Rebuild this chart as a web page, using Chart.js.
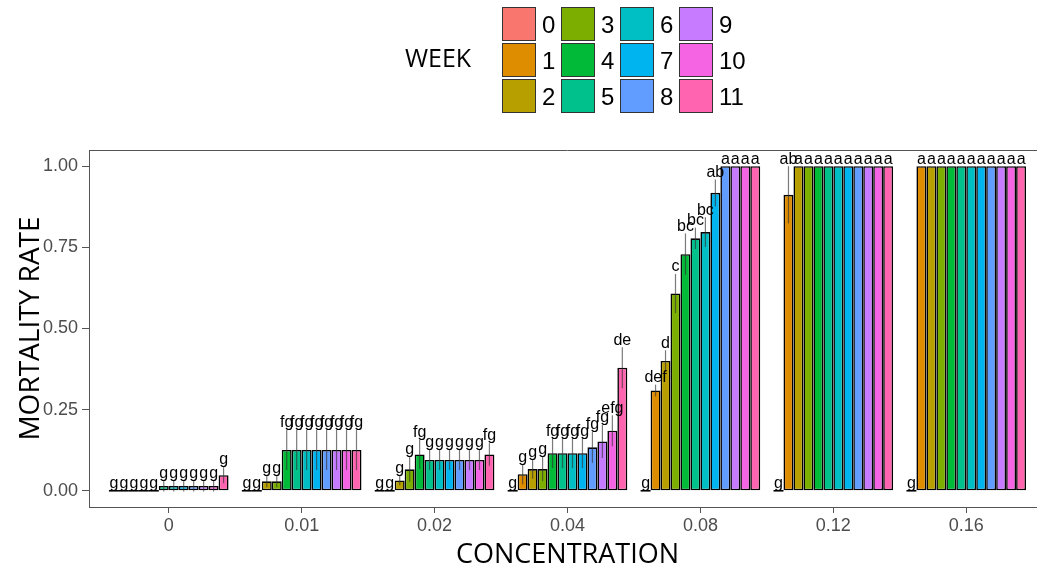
<!DOCTYPE html>
<html>
<head>
<meta charset="utf-8">
<script src="https://cdn.jsdelivr.net/npm/chart.js@4.4.1/dist/chart.umd.min.js"></script>
<style>
  html, body { margin: 0; padding: 0; background: #fff; overflow: hidden; width: 1037px; height: 572px; }
  #wrap { position: absolute; left: 0; top: 0; width: 1046px; height: 572px; }
  #legend { position: absolute; left: 0; top: 0; width: 1037px; height: 120px; font-family: 'Liberation Sans', Arial, sans-serif; }
  .key { position: absolute; width: 32px; height: 32px; border: 1.5px solid #333; }
  .lab { position: absolute; font-size: 24px; line-height: 34px; color: #000; }
  #wtitle { position: absolute; left: 405px; top: 40px; font-family: 'Open Sans', sans-serif; font-size: 25px; color: #000; }
</style>
</head>
<body>
<div id="wrap"><canvas id="myChart"></canvas></div>
<div id="legend"><div id="wtitle">WEEK</div></div>
<script>
// concentrations on the x axis, weeks as the bar series
const concentrations = ['0', '0.01', '0.02', '0.04', '0.08', '0.12', '0.16'];
const weeks = ['0', '1', '2', '3', '4', '5', '6', '7', '8', '9', '10', '11'];
const weekColors = ['#F8766D', '#DE8C00', '#B79F00', '#7CAE00', '#00BA38', '#00C08B',
                    '#00BFC4', '#00B4F0', '#619CFF', '#C77CFF', '#F564E3', '#FF64B0'];
const yTicks = [0, 0.25, 0.5, 0.75, 1];

// mean mortality rate, one row per concentration, one value per week
const means = [
  [0, 0, 0, 0, 0, 0.015, 0.015, 0.015, 0.015, 0.015, 0.015, 0.048],
  [0, 0, 0.029, 0.029, 0.126, 0.126, 0.126, 0.126, 0.126, 0.126, 0.126, 0.126],
  [0, 0, 0.032, 0.066, 0.112, 0.095, 0.095, 0.095, 0.095, 0.095, 0.095, 0.112],
  [0, 0.051, 0.067, 0.067, 0.116, 0.116, 0.116, 0.116, 0.134, 0.152, 0.185, 0.379],
  [0, 0.309, 0.40, 0.608, 0.729, 0.778, 0.797, 0.918, 1, 1, 1, 1],
  [0, 0.912, 1, 1, 1, 1, 1, 1, 1, 1, 1, 1],
  [0, 1, 1, 1, 1, 1, 1, 1, 1, 1, 1, 1]
];
// standard errors
const errors = [
  [0, 0, 0, 0, 0, 0.017, 0.017, 0.017, 0.017, 0.017, 0.017, 0.025],
  [0, 0, 0.018, 0.018, 0.062, 0.062, 0.062, 0.062, 0.062, 0.062, 0.062, 0.062],
  [0, 0, 0.015, 0.038, 0.045, 0.031, 0.031, 0.031, 0.031, 0.031, 0.031, 0.035],
  [0, 0.031, 0.03, 0.037, 0.046, 0.046, 0.046, 0.046, 0.048, 0.051, 0.048, 0.063],
  [0, 0.018, 0.033, 0.06, 0.064, 0.033, 0.046, 0.041, 0, 0, 0, 0],
  [0, 0.088, 0, 0, 0, 0, 0, 0, 0, 0, 0, 0],
  [0, 0, 0, 0, 0, 0, 0, 0, 0, 0, 0, 0]
];
// significance letters
const letters = [
  ['g', 'g', 'g', 'g', 'g', 'g', 'g', 'g', 'g', 'g', 'g', 'g'],
  ['g', 'g', 'g', 'g', 'fg', 'fg', 'fg', 'fg', 'fg', 'fg', 'fg', 'fg'],
  ['g', 'g', 'g', 'g', 'fg', 'g', 'g', 'g', 'g', 'g', 'g', 'fg'],
  ['g', 'g', 'g', 'g', 'fg', 'fg', 'fg', 'fg', 'fg', 'fg', 'efg', 'de'],
  ['g', 'def', 'd', 'c', 'bc', 'bc', 'bc', 'ab', 'a', 'a', 'a', 'a'],
  ['g', 'ab', 'a', 'a', 'a', 'a', 'a', 'a', 'a', 'a', 'a', 'a'],
  ['g', 'a', 'a', 'a', 'a', 'a', 'a', 'a', 'a', 'a', 'a', 'a']
];

// legend, 3 rows x 4 columns like ggplot
const legend = document.getElementById('legend');
const colX = [502, 561, 620, 679];
const rowY = [7, 43, 79];
weeks.forEach((wk, i) => {
  const col = Math.floor(i / 3), row = i % 3;
  const k = document.createElement('div');
  k.className = 'key';
  k.style.left = colX[col] + 'px';
  k.style.top = rowY[row] + 'px';
  k.style.background = weekColors[i];
  legend.appendChild(k);
  const l = document.createElement('div');
  l.className = 'lab';
  l.style.left = (colX[col] + 40) + 'px';
  l.style.top = (rowY[row] + 1) + 'px';
  l.textContent = wk;
  legend.appendChild(l);
});

const marks = {
  id: 'marks',
  afterDatasetsDraw(chart) {
    const { ctx, scales: { x, y }, chartArea } = chart;
    ctx.save();
    // panel top line
    ctx.strokeStyle = '#555';
    ctx.lineWidth = 1;
    ctx.beginPath();
    ctx.moveTo(chartArea.left, chartArea.top + 0.5);
    ctx.lineTo(chartArea.right, chartArea.top + 0.5);
    ctx.stroke();

    // zero bars (outline only) and error bars
    chart.data.datasets.forEach((ds, w) => {
      chart.getDatasetMeta(w).data.forEach((bar, c) => {
        const m = means[c][w], e = errors[c][w];
        if (m === 0) {
          ctx.strokeStyle = '#000';
          ctx.lineWidth = 1.6;
          ctx.beginPath();
          ctx.moveTo(bar.x - bar.width / 2, y.getPixelForValue(0));
          ctx.lineTo(bar.x + bar.width / 2, y.getPixelForValue(0));
          ctx.stroke();
        }
        if (e > 0) {
          ctx.strokeStyle = 'rgba(50,50,50,0.65)';
          ctx.lineWidth = 1.2;
          ctx.beginPath();
          ctx.moveTo(bar.x, y.getPixelForValue(m - e));
          ctx.lineTo(bar.x, y.getPixelForValue(m + e));
          ctx.stroke();
        }
      });
    });

    // letters
    ctx.fillStyle = '#000';
    ctx.font = '16px "Liberation Sans", Arial, sans-serif';
    ctx.textAlign = 'center';
    ctx.textBaseline = 'bottom';
    chart.data.datasets.forEach((ds, w) => {
      chart.getDatasetMeta(w).data.forEach((bar, c) => {
        const top = y.getPixelForValue(means[c][w] + errors[c][w]);
        ctx.fillText(letters[c][w], bar.x, top + 1);
      });
    });
    ctx.restore();
  }
};

const ctx = document.getElementById('myChart');
const data = {
  datasets: weeks.map((wk, w) => ({
    label: wk,
    data: means.map((row, c) => ({ x: c, y: row[w] })),
    backgroundColor: weekColors[w],
    borderColor: '#000',
    borderWidth: 1.6,
    borderSkipped: false,
    categoryPercentage: 0.9,
    barPercentage: 1
  }))
};

const config = {
  type: 'bar',
  data: data,
  plugins: [marks],
  options: {
    responsive: true,
    maintainAspectRatio: false,
    animation: false,
    layout: { padding: { top: 150, left: 0, right: 0, bottom: 0 } },
    plugins: { legend: { display: false }, tooltip: { enabled: false } },
    scales: {
      x: {
        type: 'linear',
        min: -0.6,
        max: 6.6,
        offset: false,
        afterBuildTicks: s => { s.ticks = concentrations.map((c, i) => ({ value: i })); },
        afterFit: s => { s.height = 65; },
        ticks: {
          callback: v => concentrations[v],
          color: '#4d4d4d',
          font: { family: 'Liberation Sans', size: 18 },
          padding: 2,
          maxRotation: 0,
          autoSkip: false
        },
        grid: { display: true, offset: false, drawOnChartArea: false, drawTicks: true, tickLength: 6, color: '#555' },
        border: { display: true, color: '#555', width: 1 },
        title: {
          display: true,
          text: 'CONCENTRATION',
          color: '#000',
          font: { family: 'Open Sans', size: 27 },
          padding: { top: 2, bottom: 0 }
        }
      },
      y: {
        min: -0.05,
        max: 1.05,
        afterBuildTicks: s => { s.ticks = yTicks.map(v => ({ value: v })); },
        afterFit: s => { s.width = 89; },
        ticks: {
          callback: v => v.toFixed(2),
          color: '#4d4d4d',
          font: { family: 'Liberation Sans', size: 18 },
          padding: 4
        },
        grid: { display: true, drawOnChartArea: false, drawTicks: true, tickLength: 7, color: '#555' },
        border: { display: true, color: '#555', width: 1 },
        title: {
          display: true,
          text: 'MORTALITY RATE',
          color: '#000',
          font: { family: 'Open Sans', size: 28 },
          padding: { top: 14, bottom: 0 }
        }
      }
    }
  }
};

window.myChart = new Chart(ctx, config);
</script>
</body>
</html>
